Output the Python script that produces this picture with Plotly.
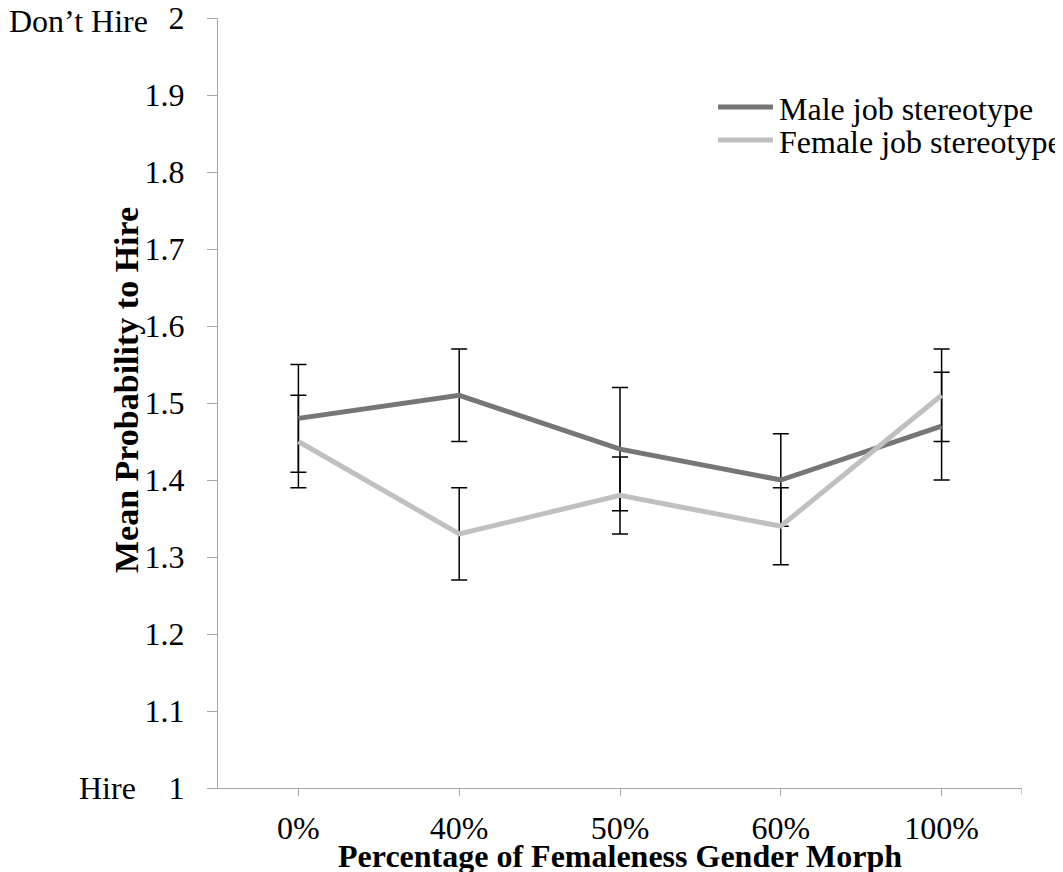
import plotly.graph_objects as go

categories = ["0%", "40%", "50%", "60%", "100%"]
male_mean = [1.48, 1.51, 1.44, 1.40, 1.47]
male_err = [0.07, 0.06, 0.08, 0.06, 0.07]
female_mean = [1.45, 1.33, 1.38, 1.34, 1.51]
female_err = [0.06, 0.06, 0.05, 0.05, 0.06]
series_names = ["Male job stereotype", "Female job stereotype"]
y_ticks = [1.0, 1.1, 1.2, 1.3, 1.4, 1.5, 1.6, 1.7, 1.8, 1.9, 2.0]
y_ticktext = ["1", "1.1", "1.2", "1.3", "1.4", "1.5", "1.6", "1.7", "1.8", "1.9", "2"]

FONT = "Liberation Serif, Times New Roman, serif"
AXIS_COLOR = "#a6a6a6"
MALE_COLOR = "#767676"
FEMALE_COLOR = "#c0c0c0"

xs = list(range(len(categories)))

fig = go.Figure()

# error bars (drawn beneath lines)
for mean, err in [(male_mean, male_err), (female_mean, female_err)]:
    fig.add_trace(go.Scatter(
        x=xs, y=mean, mode="markers",
        marker=dict(size=1, color="rgba(0,0,0,0)"),
        error_y=dict(type="data", array=err, visible=True, color="black",
                     thickness=1.5, width=8),
        showlegend=False, hoverinfo="skip",
    ))

fig.add_trace(go.Scatter(
    x=xs, y=male_mean, mode="lines", name=series_names[0],
    line=dict(color=MALE_COLOR, width=5), showlegend=False,
))
fig.add_trace(go.Scatter(
    x=xs, y=female_mean, mode="lines", name=series_names[1],
    line=dict(color=FEMALE_COLOR, width=5), showlegend=False,
))

# custom legend (line sample + label), paper coordinates
legend_rows = [(series_names[0], MALE_COLOR, 0.8844), (series_names[1], FEMALE_COLOR, 0.8416)]
shapes = []
annotations = []
for name, color, yp in legend_rows:
    shapes.append(dict(type="line", xref="paper", yref="paper",
                       x0=0.6219, x1=0.6903, y0=yp, y1=yp,
                       line=dict(color=color, width=5)))
    annotations.append(dict(text=name, xref="paper", yref="paper",
                            x=0.6953, y=yp, xanchor="left", yanchor="middle",
                            yshift=-2, showarrow=False,
                            font=dict(size=32, family=FONT)))

annotations += [
    dict(text="<b>Percentage of Femaleness Gender Morph</b>", xref="paper", yref="paper",
         x=0.5, y=0, xanchor="center", yanchor="top", yshift=-48, showarrow=False,
         font=dict(size=32, family=FONT)),
    dict(text="<b>Mean Probability to Hire</b>", xref="paper", yref="paper",
         x=0, y=0.5, xanchor="center", yanchor="middle", xshift=-92, yshift=13,
         textangle=-90, showarrow=False, font=dict(size=34, family=FONT)),
    dict(text="Don’t Hire", xref="paper", yref="y", x=0, y=2,
         xanchor="right", yanchor="middle", xshift=-68, yshift=-3, showarrow=False,
         font=dict(size=32, family=FONT)),
    dict(text="Hire", xref="paper", yref="y", x=0, y=1,
         xanchor="right", yanchor="middle", xshift=-80, showarrow=False,
         font=dict(size=32, family=FONT)),
]
shapes.append(dict(type="line", xref="x", x0=4.5, x1=4.5, yref="paper",
                   ysizemode="pixel", yanchor=0, y0=0, y1=-7,
                   line=dict(color=AXIS_COLOR, width=1)))

fig.update_layout(
    width=1055, height=864,
    margin=dict(l=210, r=41, t=10, b=84, autoexpand=False),
    paper_bgcolor="white", plot_bgcolor="white",
    font=dict(family=FONT, size=32, color="black"),
    showlegend=False,
    xaxis=dict(
        range=[-0.5, 4.5], tickmode="array", tickvals=xs, ticktext=categories,
        showline=True, linecolor=AXIS_COLOR, linewidth=1,
        ticks="outside", ticklen=7, tickcolor=AXIS_COLOR, tickwidth=1,
        showgrid=False, zeroline=False, ticklabelstandoff=5,
        ticklabeloverflow="allow",
        tickfont=dict(size=32, family=FONT),
    ),
    yaxis=dict(
        range=[1, 2], tickmode="array", tickvals=y_ticks, ticktext=y_ticktext,
        showline=True, linecolor=AXIS_COLOR, linewidth=1,
        ticks="outside", ticklen=10, tickcolor=AXIS_COLOR, tickwidth=1,
        showgrid=False, zeroline=False, ticklabelstandoff=16,
        ticklabeloverflow="allow",
        tickfont=dict(size=32, family=FONT),
    ),
    annotations=annotations,
    shapes=shapes,
)

fig.write_html("out.html")
